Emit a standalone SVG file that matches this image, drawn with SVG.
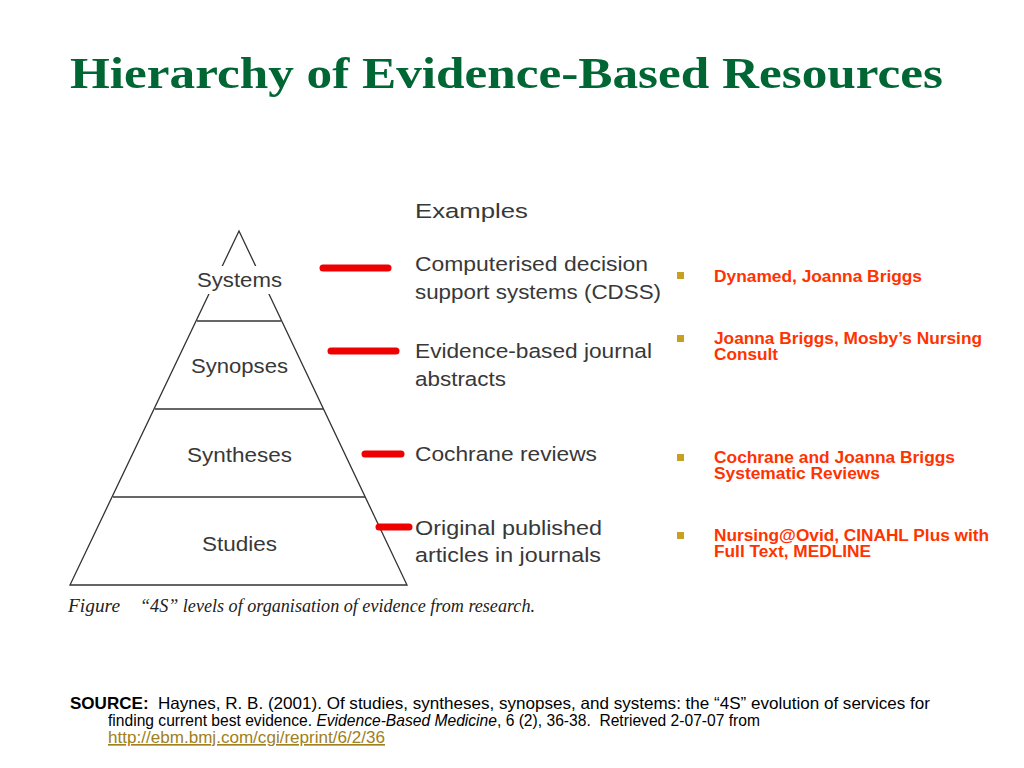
<svg xmlns="http://www.w3.org/2000/svg" width="1024" height="768" viewBox="0 0 1024 768">
<style>
.lvl{font-family:"Liberation Sans",Arial,sans-serif;font-size:20px;fill:#383838;text-anchor:middle}
.ex{font-family:"Liberation Sans",Arial,sans-serif;font-size:20.5px;fill:#383838}
.bar{stroke:#ee0000;stroke-width:7;stroke-linecap:round;fill:none}
.pl{stroke:#333;stroke-width:1.3;fill:none}
.bt{font-family:"Liberation Sans",Arial,sans-serif;font-size:16px;font-weight:bold;fill:#ff3300}
.bu{fill:#c8a020}
.src{font-family:"Liberation Sans Narrow","Liberation Sans",Arial,sans-serif;font-size:16.5px;fill:#000}
</style>
<rect width="1024" height="768" fill="#fff"/>
<text x="70" y="88" font-family="Liberation Serif,Times New Roman,serif" font-size="45" font-weight="bold" fill="#006633" textLength="873" lengthAdjust="spacingAndGlyphs">Hierarchy of Evidence-Based Resources</text>

<g id="pyramid">
<path class="pl" d="M239,231 L70,585 L407,585 Z"/>
<line class="pl" x1="197" y1="321" x2="281" y2="321"/>
<line class="pl" x1="155" y1="409" x2="323" y2="409"/>
<line class="pl" x1="113" y1="497" x2="365" y2="497"/>
<rect x="190" y="266" width="98" height="28" fill="#fff"/>
</g>
<g id="systems"><text class="lvl" x="239.5" y="287" textLength="85" lengthAdjust="spacingAndGlyphs">Systems</text></g>
<g id="synopses"><text class="lvl" x="239.5" y="373" textLength="97" lengthAdjust="spacingAndGlyphs">Synopses</text></g>
<g id="syntheses"><text class="lvl" x="239.5" y="462" textLength="105" lengthAdjust="spacingAndGlyphs">Syntheses</text></g>
<g id="studies"><text class="lvl" x="239.5" y="551" textLength="75" lengthAdjust="spacingAndGlyphs">Studies</text></g>

<g id="connectors">
<line class="bar" x1="323" y1="268" x2="388" y2="268"/>
<line class="bar" x1="331" y1="351" x2="396" y2="351"/>
<line class="bar" x1="365" y1="454" x2="401" y2="454"/>
<line class="bar" x1="379" y1="527" x2="409" y2="527"/>
</g>

<g id="examples">
<text class="ex" x="415" y="218" font-size="22.5" textLength="113" lengthAdjust="spacingAndGlyphs">Examples</text>
<text class="ex" x="415" y="271" textLength="233" lengthAdjust="spacingAndGlyphs">Computerised decision</text>
<text class="ex" x="415" y="299" textLength="246" lengthAdjust="spacingAndGlyphs">support systems (CDSS)</text>
<text class="ex" x="415" y="358" textLength="237" lengthAdjust="spacingAndGlyphs">Evidence-based journal</text>
<text class="ex" x="415" y="386" textLength="91" lengthAdjust="spacingAndGlyphs">abstracts</text>
<text class="ex" x="415" y="461" textLength="182" lengthAdjust="spacingAndGlyphs">Cochrane reviews</text>
<text class="ex" x="415" y="535" textLength="187" lengthAdjust="spacingAndGlyphs">Original published</text>
<text class="ex" x="415" y="562" textLength="186" lengthAdjust="spacingAndGlyphs">articles in journals</text>
</g>

<g id="caption" font-family="Liberation Serif,Times New Roman,serif" font-style="italic" font-size="18" fill="#222">
<text x="68" y="612" textLength="52" lengthAdjust="spacingAndGlyphs">Figure</text>
<text x="140" y="612" textLength="395" lengthAdjust="spacingAndGlyphs">“4S” levels of organisation of evidence from research.</text>
</g>

<g id="bullets">
<rect class="bu" x="677" y="272" width="7" height="7"/>
<text class="bt" x="714" y="282" textLength="208" lengthAdjust="spacingAndGlyphs">Dynamed, Joanna Briggs</text>
<rect class="bu" x="677" y="335" width="7" height="7"/>
<text class="bt" x="714" y="344" textLength="268" lengthAdjust="spacingAndGlyphs">Joanna Briggs, Mosby’s Nursing</text>
<text class="bt" x="714" y="360" textLength="64" lengthAdjust="spacingAndGlyphs">Consult</text>
<rect class="bu" x="677" y="454" width="7" height="7"/>
<text class="bt" x="714" y="463" textLength="241" lengthAdjust="spacingAndGlyphs">Cochrane and Joanna Briggs</text>
<text class="bt" x="714" y="479" textLength="166" lengthAdjust="spacingAndGlyphs">Systematic Reviews</text>
<rect class="bu" x="677" y="532" width="7" height="7"/>
<text class="bt" x="714" y="541" textLength="275" lengthAdjust="spacingAndGlyphs">Nursing@Ovid, CINAHL Plus with</text>
<text class="bt" x="714" y="557" textLength="157" lengthAdjust="spacingAndGlyphs">Full Text, MEDLINE</text>
</g>

<g id="source">
<text class="src" x="70" y="709" textLength="860" lengthAdjust="spacingAndGlyphs" xml:space="preserve"><tspan font-weight="bold">SOURCE:</tspan>  Haynes, R. B. (2001). Of studies, syntheses, synopses, and systems: the “4S” evolution of services for</text>
<text class="src" x="108" y="726" textLength="652" lengthAdjust="spacingAndGlyphs" xml:space="preserve">finding current best evidence. <tspan font-style="italic">Evidence-Based Medicine</tspan>, 6 (2), 36-38.  Retrieved 2-07-07 from</text>
<text class="src" x="108" y="743" text-decoration="underline" textLength="277" lengthAdjust="spacingAndGlyphs" style="fill:#a08020">http://ebm.bmj.com/cgi/reprint/6/2/36</text>
</g>
</svg>
